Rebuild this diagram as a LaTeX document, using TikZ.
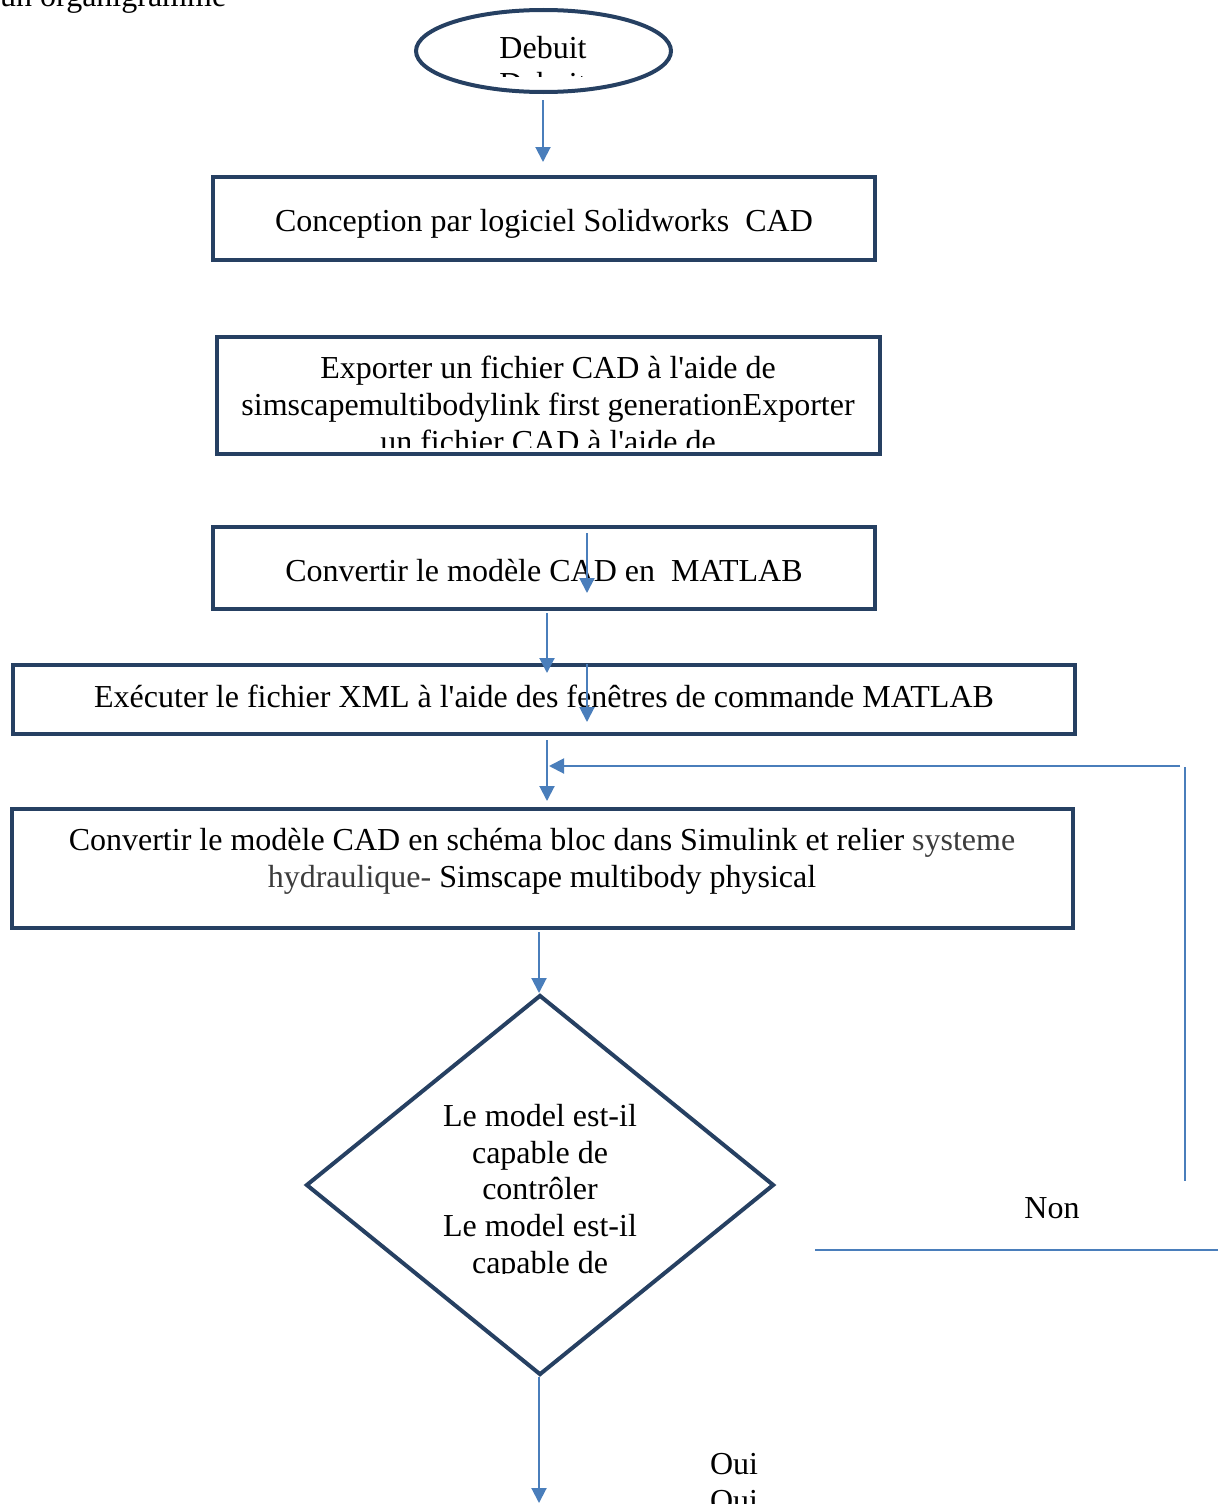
\documentclass[tikz,border=0pt]{standalone}
\usepackage{fontspec}
\setmainfont{Liberation Serif}[Ligatures=TeXOff]
\usetikzlibrary{shapes.geometric,arrows.meta}
\definecolor{navy}{RGB}{38,64,98}
\definecolor{conn}{RGB}{74,126,187}
\definecolor{grayt}{RGB}{60,60,60}
\begin{document}
\begin{tikzpicture}[x=1pt,y=-1pt,
 box/.style={draw=navy,line width=4pt,inner sep=0pt,rectangle},
 arr/.style={draw=conn,line width=2pt,-{Triangle[length=15pt,width=15pt]}},
 ln/.style={draw=conn,line width=2pt},
 txt/.style={font=\fontsize{32}{37}\selectfont,inner sep=0pt,anchor=base}]
\useasboundingbox (0,0) rectangle (1218,1504);

% title fragment
\node[txt,anchor=base west] (title) at (0,7) {un organigramme};

% start ellipse
\node[draw=navy,line width=4pt,ellipse,inner sep=0pt,minimum width=255pt,minimum height=82pt] (deb) at (543.5,51) {};
\node[txt] (debt) at (543,59) {Debuit};
\begin{scope}
\clip (420,60) rectangle (670,76);
\node[txt] (debt2) at (543,95) {Debuit};
\end{scope}

% boxes
\node[box,minimum width=662pt,minimum height=83pt] (b1) at (544,218.5) {};
\node[txt] (b1t) at (544,231) {Conception par logiciel Solidworks\ \ CAD};

\node[box,minimum width=663pt,minimum height=117pt] (b2) at (548.5,395.5) {};
\node[txt] (b2t1) at (548,378) {Exporter un fichier CAD à l'aide de};
\node[txt] (b2t2) at (548,415) {simscapemultibodylink first generationExporter};
\begin{scope}
\clip (230,420) rectangle (870,447);
\node[txt] (b2t3) at (548,452) {un fichier CAD à l'aide de};
\end{scope}

\node[box,minimum width=662pt,minimum height=82pt] (b3) at (544,568) {};
\node[txt] (b3t) at (544,581) {Convertir le modèle CAD en\ \ MATLAB};

\node[box,minimum width=1062pt,minimum height=69pt] (b4) at (544,699.5) {};
\node[txt] (b4t) at (544,707) {Exécuter le fichier XML à l'aide des fenêtres de commande MATLAB};

\node[box,minimum width=1061pt,minimum height=119pt] (b5) at (542.5,868.5) {};
\node[txt] (b5t1) at (542,850) {Convertir le modèle CAD en schéma bloc dans Simulink et relier \textcolor{grayt}{systeme}};
\node[txt] (b5t2) at (542,887) {\textcolor{grayt}{hydraulique-} Simscape multibody physical};

% decision
\node[draw=navy,line width=4pt,diamond,inner sep=0pt,minimum width=468pt,minimum height=380pt] (dec) at (540,1185) {};
\node[txt] (dt1) at (540,1126) {Le model est-il};
\node[txt] (dt2) at (540,1163) {capable de};
\node[txt] (dt3) at (540,1199) {contrôler};
\node[txt] (dt4) at (540,1236) {Le model est-il};
\begin{scope}
\clip (380,1240) rectangle (700,1273);
\node[txt] (dt5) at (540,1273) {capable de};
\end{scope}

% labels
\node[txt] (non) at (1052,1218) {Non};
\node[txt] (oui) at (734,1474) {Oui};
\node[txt] (oui2) at (734,1511) {Oui};

% connector end points
\coordinate (c1a) at (543,100);   \coordinate (c1b) at (543,162);
\coordinate (c2a) at (587,533);   \coordinate (c2b) at (587,593);
\coordinate (c3a) at (547,613);   \coordinate (c3b) at (547,673);
\coordinate (c4a) at (587,664);   \coordinate (c4b) at (587,722);
\coordinate (c5a) at (547,740);   \coordinate (c5b) at (547,801);
\coordinate (fa) at (1180,766);   \coordinate (fb) at (549,766);
\coordinate (va) at (1185,767);   \coordinate (vb) at (1185,1181);
\coordinate (na) at (815,1250);   \coordinate (nb) at (1218,1250);
\coordinate (c6a) at (539,932);   \coordinate (c6b) at (539,993);
\coordinate (c7a) at (539,1377);  \coordinate (c7b) at (539,1503);

\draw[arr] (c1a) -- (c1b);
\draw[arr] (c2a) -- (c2b);
\draw[arr] (c3a) -- (c3b);
\draw[arr] (c4a) -- (c4b);
\draw[arr] (c5a) -- (c5b);
\draw[arr] (fa) -- (fb);
\draw[ln] (va) -- (vb);
\draw[ln] (na) -- (nb);
\draw[arr] (c6a) -- (c6b);
\draw[arr] (c7a) -- (c7b);
\end{tikzpicture}
\end{document}
